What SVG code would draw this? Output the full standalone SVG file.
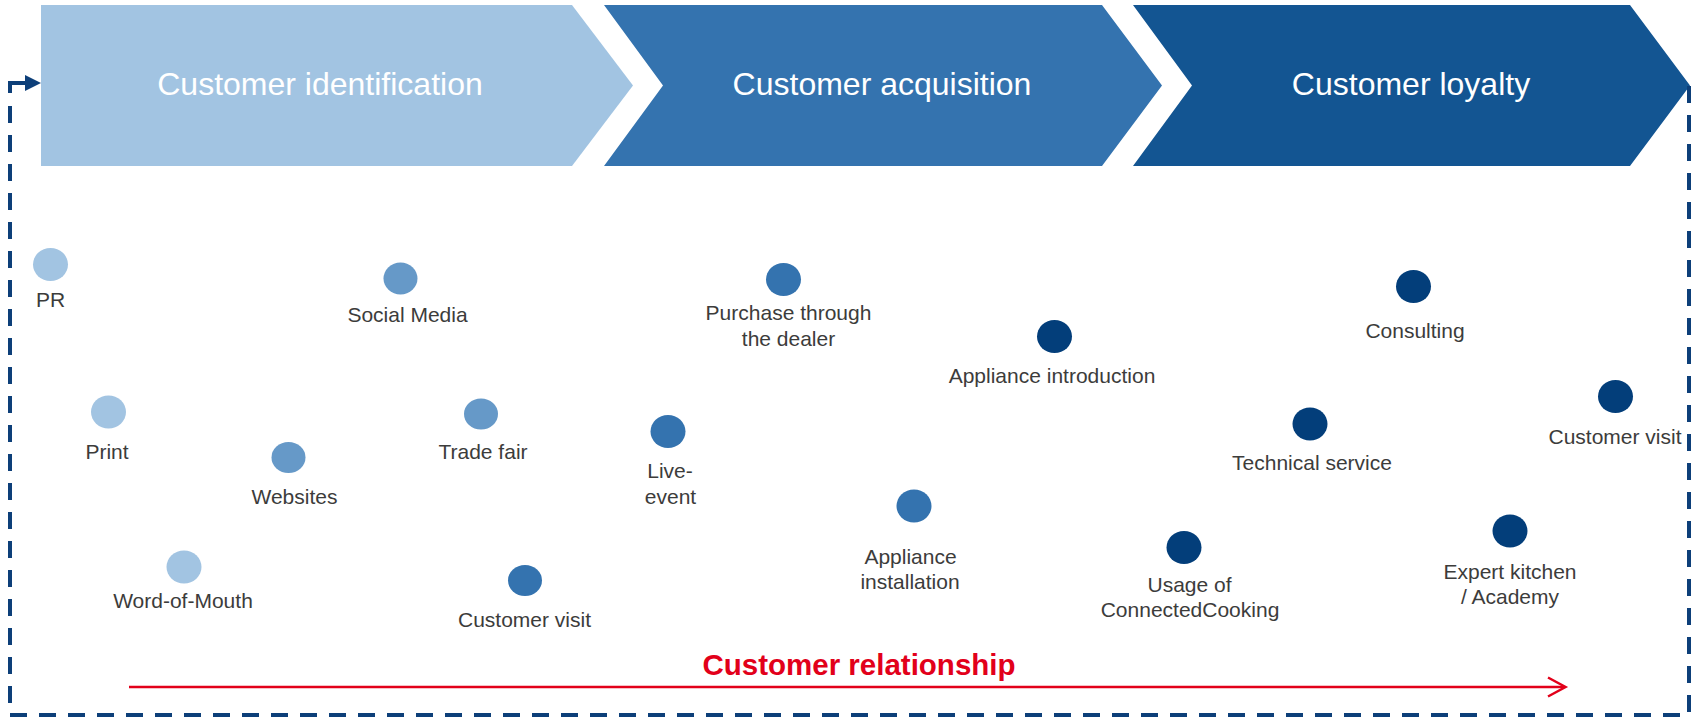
<svg xmlns="http://www.w3.org/2000/svg" width="1696" height="719" viewBox="0 0 1696 719">
<style>
.hdr{font-family:"Liberation Sans",Arial,sans-serif;font-size:32px;fill:#fff;text-anchor:middle}
.lbl{font-family:"Liberation Sans",Arial,sans-serif;font-size:21px;fill:#3c3c3b;text-anchor:middle}
.c1{fill:#a2c4e2}.c2{fill:#6699c8}.c3{fill:#3473af}.c4{fill:#033e7a}
.dash{fill:none;stroke:#0d3f79;stroke-width:4}
</style>
<rect width="1696" height="719" fill="#fff"/>
<g id="stage-identification">
<polygon points="41,5 572,5 633,85.5 572,166 41,166" fill="#a2c4e2"/>
<text class="hdr" x="320" y="95">Customer identification</text>
</g>
<g id="stage-acquisition">
<polygon points="604,5 1102,5 1162,85.5 1102,166 604,166 663,85.5" fill="#3473af"/>
<text class="hdr" x="882" y="95">Customer acquisition</text>
</g>
<g id="stage-loyalty">
<polygon points="1133,5 1630,5 1690,85.5 1630,166 1133,166 1192,85.5" fill="#135592"/>
<text class="hdr" x="1411" y="95">Customer loyalty</text>
</g>
<g id="connectors">
<path class="dash" d="M1689,86 V715 H10 V104" stroke-dasharray="17 12"/>
<path class="dash" d="M10,93 V83 H27"/>
<polygon points="25,75 41,83 25,91" fill="#0d3f79"/>
<line x1="129" y1="687" x2="1564" y2="687" stroke="#e2001a" stroke-width="2.5"/>
<polyline points="1548,677.5 1565.5,687 1548,696.5" fill="none" stroke="#e2001a" stroke-width="2.5"/>
<text x="859" y="675" font-family="'Liberation Sans',Arial,sans-serif" font-size="29.5" font-weight="bold" fill="#e2001a" text-anchor="middle">Customer relationship</text>
</g>
<g id="n-pr"><ellipse class="c1" cx="50.5" cy="264.5" rx="17.5" ry="16.5"/><text class="lbl" x="50.5" y="307">PR</text></g>
<g id="n-print"><ellipse class="c1" cx="108.5" cy="412" rx="17.5" ry="16.5"/><text class="lbl" x="107" y="458.5">Print</text></g>
<g id="n-wom"><ellipse class="c1" cx="184" cy="567" rx="17.5" ry="16.5"/><text class="lbl" x="183" y="607.5">Word-of-Mouth</text></g>
<g id="n-social"><ellipse class="c2" cx="400.5" cy="278.5" rx="17" ry="16"/><text class="lbl" x="407.5" y="321.5">Social Media</text></g>
<g id="n-trade"><ellipse class="c2" cx="481" cy="414" rx="17" ry="15.5"/><text class="lbl" x="483" y="458.5">Trade fair</text></g>
<g id="n-websites"><ellipse class="c2" cx="288.5" cy="457.5" rx="17" ry="15.5"/><text class="lbl" x="294.5" y="503.5">Websites</text></g>
<g id="n-visit1"><ellipse class="c3" cx="525" cy="580.5" rx="17" ry="15.5"/><text class="lbl" x="524.5" y="626.5">Customer visit</text></g>
<g id="n-live"><ellipse class="c3" cx="668" cy="431.5" rx="17.5" ry="16.5"/><text class="lbl" x="670" y="477.5">Live-</text><text class="lbl" x="670.5" y="503.5">event</text></g>
<g id="n-purchase"><ellipse class="c3" cx="783.5" cy="279.5" rx="17.5" ry="16.5"/><text class="lbl" x="788.5" y="320">Purchase through</text><text class="lbl" x="788.5" y="345.5">the dealer</text></g>
<g id="n-install"><ellipse class="c3" cx="914" cy="506" rx="17.5" ry="16.5"/><text class="lbl" x="910.5" y="564">Appliance</text><text class="lbl" x="910" y="589">installation</text></g>
<g id="n-intro"><ellipse class="c4" cx="1054.5" cy="336.5" rx="17.5" ry="16.5"/><text class="lbl" x="1052" y="382.5">Appliance introduction</text></g>
<g id="n-cc"><ellipse class="c4" cx="1184" cy="547.5" rx="17.5" ry="16.5"/><text class="lbl" x="1189.5" y="591.5">Usage of</text><text class="lbl" x="1190" y="616.5">ConnectedCooking</text></g>
<g id="n-tech"><ellipse class="c4" cx="1310" cy="424" rx="17.5" ry="16.5"/><text class="lbl" x="1312" y="469.5">Technical service</text></g>
<g id="n-consult"><ellipse class="c4" cx="1413.5" cy="286.5" rx="17.5" ry="16.5"/><text class="lbl" x="1415" y="337.5">Consulting</text></g>
<g id="n-expert"><ellipse class="c4" cx="1510" cy="531" rx="17.5" ry="16.5"/><text class="lbl" x="1510" y="578.5">Expert kitchen</text><text class="lbl" x="1510" y="603.5">/ Academy</text></g>
<g id="n-visit2"><ellipse class="c4" cx="1615.5" cy="396.5" rx="17.5" ry="16.5"/><text class="lbl" x="1615" y="443.5">Customer visit</text></g>
</svg>
